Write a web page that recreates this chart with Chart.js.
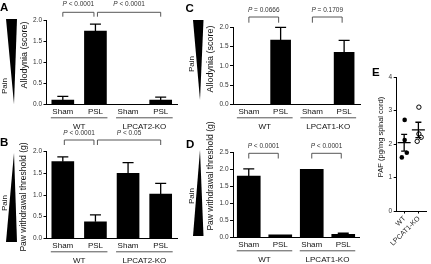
<!DOCTYPE html>
<html>
<head>
<meta charset="utf-8">
<script src="https://cdn.jsdelivr.net/npm/chart.js@4.4.0/dist/chart.umd.min.js"></script>
<style>
html, body { margin: 0; padding: 0; background: #fff; }
#wrap { position: relative; width: 431px; height: 264px; overflow: hidden; }
#wrap canvas { position: absolute; left: 0; top: 0; }
</style>
</head>
<body>
<div id="wrap">
  <canvas id="chartA" width="431" height="264"></canvas>
  <canvas id="chartB" width="431" height="264"></canvas>
  <canvas id="chartC" width="431" height="264"></canvas>
  <canvas id="chartD" width="431" height="264"></canvas>
  <canvas id="chartE" width="431" height="264"></canvas>
</div>
<script>
// valores
const treatments = ['Sham', 'PSL', 'Sham', 'PSL'];
const groupsAB = ['WT', 'LPCAT2-KO'];
const groupsCD = ['WT', 'LPCAT1-KO'];

const allodyniaA = [0.10, 1.74, 0, 0.10];
const allodyniaAErr = [0.09, 0.16, 0, 0.07];
const pawB = [1.77, 0.38, 1.50, 1.02];
const pawBErr = [0.11, 0.16, 0.25, 0.25];
const allodyniaC = [0, 1.67, 0, 1.35];
const allodyniaCErr = [0, 0.33, 0, 0.31];
const pawD = [1.81, 0.07, 2.01, 0.09];
const pawDErr = [0.21, 0, 0, 0.03];

const pA = [' < 0.0001', ' < 0.0001'];
const pB = [' < 0.0001', ' < 0.05'];
const pC = [' = 0.0666', ' = 0.1709'];
const pD = [' < 0.0001', ' < 0.0001'];

const pafLabels = ['WT', 'LPCAT1-KO'];
const pafWT = [2.72, 2.12, 1.74, 1.60];
const pafKO = [3.10, 2.30, 2.20, 2.08];
const pafWTJitter = [0, 0, 0.15, -0.20];
const pafKOJitter = [0, 0, 0.16, -0.12];
const pafMean = [2.04, 2.42];
const pafSem = [0.25, 0.23];

const W = 431, H = 264;
const Y_BOX = 20;   // largura da caixa do eixo y
const X_BOX = 16;   // altura da caixa do eixo x
const FONT = "'Liberation Sans', Arial, sans-serif";
Chart.defaults.font.family = FONT;

function pText(ctx, str, cx, cy) {
    ctx.font = 'italic 6.5px ' + FONT;
    const w1 = ctx.measureText('P').width;
    ctx.font = '6.5px ' + FONT;
    const w2 = ctx.measureText(str).width;
    const x0 = cx - (w1 + w2) / 2;
    ctx.fillStyle = '#333';
    ctx.textAlign = 'left';
    ctx.textBaseline = 'middle';
    ctx.font = 'italic 6.5px ' + FONT;
    ctx.fillText('P', x0, cy);
    ctx.font = '6.5px ' + FONT;
    ctx.fillText(str, x0 + w1, cy);
}

function rotText(ctx, text, cx, cy, font, color) {
    ctx.save();
    ctx.translate(cx, cy);
    ctx.rotate(-Math.PI / 2);
    ctx.font = font;
    ctx.fillStyle = color;
    ctx.textAlign = 'center';
    ctx.textBaseline = 'middle';
    ctx.fillText(text, 0, 0);
    ctx.restore();
}

// desenha barras de erro, colchetes, grupos e decoração do painel
const decoPlugin = {
    id: 'deco',
    afterDatasetsDraw(chart, args, o) {
        const ctx = chart.ctx;
        const xs = chart.scales.x, ys = chart.scales.y;
        const area = chart.chartArea;
        ctx.save();

        if (o.errors) {
            const meta = chart.getDatasetMeta(0);
            const vals = chart.data.datasets[0].data;
            ctx.strokeStyle = '#000';
            ctx.lineWidth = 1.3;
            o.errors.forEach((e, i) => {
                if (!e) return;
                const px = meta.data[i].x;
                const y0 = ys.getPixelForValue(vals[i]);
                const y1 = ys.getPixelForValue(vals[i] + e);
                ctx.beginPath();
                ctx.moveTo(px, y0);
                ctx.lineTo(px, y1);
                ctx.moveTo(px - 5.5, y1);
                ctx.lineTo(px + 5.5, y1);
                ctx.stroke();
            });
        }

        if (o.brackets) {
            ctx.strokeStyle = '#444';
            ctx.lineWidth = 0.9;
            o.brackets.forEach(b => {
                const x0 = xs.getPixelForValue(b.from) + (b.in0 || 0);
                const x1 = xs.getPixelForValue(b.to) - (b.in1 || 0);
                ctx.beginPath();
                ctx.moveTo(x0, o.bracketDrop);
                ctx.lineTo(x0, o.bracketY);
                ctx.lineTo(x1, o.bracketY);
                ctx.lineTo(x1, o.bracketDrop);
                ctx.stroke();
                pText(ctx, b.text, (x0 + x1) / 2, o.textY);
            });
        }

        if (o.groups) {
            o.groups.forEach(g => {
                const x0 = xs.getPixelForValue(g.from) - 12;
                const x1 = xs.getPixelForValue(g.to) + 12;
                ctx.strokeStyle = '#555';
                ctx.lineWidth = 1;
                ctx.beginPath();
                ctx.moveTo(x0, area.bottom + 13.5);
                ctx.lineTo(x1, area.bottom + 13.5);
                ctx.stroke();
                ctx.fillStyle = '#111';
                ctx.font = '8px ' + FONT;
                ctx.textAlign = 'center';
                ctx.textBaseline = 'middle';
                ctx.fillText(g.label, (x0 + x1) / 2, area.bottom + 22);
            });
        }

        if (o.meanSem) {
            ctx.strokeStyle = '#000';
            ctx.lineWidth = 1.3;
            o.meanSem.means.forEach((m, i) => {
                const px = xs.getPixelForValue(i + 1) - 0.5;
                const ym = ys.getPixelForValue(m);
                const yt = ys.getPixelForValue(m + o.meanSem.sems[i]);
                const yb = ys.getPixelForValue(m - o.meanSem.sems[i]);
                ctx.beginPath();
                ctx.moveTo(px - 6.5, ym);
                ctx.lineTo(px + 6.5, ym);
                ctx.moveTo(px, yt);
                ctx.lineTo(px, yb);
                ctx.moveTo(px - 3, yt);
                ctx.lineTo(px + 3, yt);
                ctx.moveTo(px - 3, yb);
                ctx.lineTo(px + 3, yb);
                ctx.stroke();
            });
        }

        if (o.letter) {
            ctx.fillStyle = '#000';
            ctx.font = 'bold 11.5px ' + FONT;
            ctx.textAlign = 'left';
            ctx.textBaseline = 'alphabetic';
            ctx.fillText(o.letter.text, o.letter.x, o.letter.y);
        }

        if (o.triangle) {
            const t = o.triangle;
            ctx.fillStyle = '#000';
            ctx.beginPath();
            ctx.moveTo(t.x0, t.wideY);
            ctx.lineTo(t.x1, t.wideY);
            ctx.lineTo(t.tipX, t.tipY);
            ctx.closePath();
            ctx.fill();
            rotText(ctx, 'Pain', t.painX, t.painY, '8px ' + FONT, '#111');
        }

        if (o.yTitle) {
            rotText(ctx, o.yTitle.text, o.yTitle.x, o.yTitle.y, o.yTitle.size + 'px ' + FONT, '#111');
        }

        ctx.restore();
    }
};

function barPanel(id, values, area, yMax, barW, deco) {
    return new Chart(document.getElementById(id), {
        type: 'bar',
        data: {
            labels: treatments,
            datasets: [{
                data: values,
                backgroundColor: '#000',
                barThickness: barW
            }]
        },
        plugins: [decoPlugin],
        options: {
            responsive: false,
            animation: false,
            events: [],
            layout: {
                padding: {
                    left: area[0] - Y_BOX,
                    top: area[1],
                    right: W - area[2],
                    bottom: H - area[3] - X_BOX
                }
            },
            plugins: {
                legend: { display: false },
                tooltip: { enabled: false },
                deco: deco
            },
            scales: {
                x: {
                    grid: { display: false, drawTicks: false },
                    border: { display: true, color: '#000', width: 1 },
                    ticks: { font: { size: 8 }, color: '#111', padding: 3 },
                    afterFit: s => { s.height = X_BOX; }
                },
                y: {
                    min: 0,
                    max: yMax,
                    grid: { drawOnChartArea: false, tickLength: 3, color: '#000' },
                    border: { display: true, color: '#000', width: 1 },
                    ticks: {
                        stepSize: 0.5,
                        font: { size: 6.5 },
                        color: '#333',
                        padding: 1.5,
                        callback: v => v.toFixed(1)
                    },
                    afterFit: s => { s.width = Y_BOX; }
                }
            }
        }
    });
}

barPanel('chartA', allodyniaA, [46.5, 20, 177, 104.3], 2, 22, {
    errors: allodyniaAErr,
    bracketY: 12.3, bracketDrop: 16.7, textY: 4.5,
    brackets: [
        { from: 0, to: 1, text: pA[0], in1: 1.5 },
        { from: 1, to: 3, text: pA[1], in0: 2 }
    ],
    groups: [
        { label: groupsAB[0], from: 0, to: 1 },
        { label: groupsAB[1], from: 2, to: 3 }
    ],
    letter: { text: 'A', x: 0, y: 10.5 },
    triangle: { x0: 6, x1: 17, wideY: 19, tipX: 14, tipY: 104, painX: 4.5, painY: 86 },
    yTitle: { text: 'Allodynia (score)', x: 24.5, y: 55, size: 9 }
});

barPanel('chartB', pawB, [46.5, 151.7, 177, 238.3], 2, 22, {
    errors: pawBErr,
    bracketY: 140, bracketDrop: 145, textY: 133.5,
    brackets: [
        { from: 0, to: 1, text: pB[0], in0: 1.5, in1: 1.5 },
        { from: 1, to: 3, text: pB[1], in0: 2 }
    ],
    groups: [
        { label: groupsAB[0], from: 0, to: 1 },
        { label: groupsAB[1], from: 2, to: 3 }
    ],
    letter: { text: 'B', x: 0, y: 146 },
    triangle: { x0: 6, x1: 17, wideY: 242, tipX: 14, tipY: 153, painX: 4.5, painY: 203 },
    yTitle: { text: 'Paw withdrawal threshold (g)', x: 24, y: 197, size: 8.5 }
});

barPanel('chartC', allodyniaC, [233, 27.3, 360, 104.3], 2, 20, {
    errors: allodyniaCErr,
    bracketY: 17, bracketDrop: 22.7, textY: 10,
    brackets: [
        { from: 0, to: 1, text: pC[0], in1: 2 },
        { from: 2, to: 3, text: pC[1], in1: 2 }
    ],
    groups: [
        { label: groupsCD[0], from: 0, to: 1 },
        { label: groupsCD[1], from: 2, to: 3 }
    ],
    letter: { text: 'C', x: 185.5, y: 11.7 },
    triangle: { x0: 193, x1: 203.5, wideY: 20, tipX: 200, tipY: 100, painX: 192, painY: 64 },
    yTitle: { text: 'Allodynia (score)', x: 210.5, y: 59, size: 9 }
});

barPanel('chartD', pawD, [233, 152.7, 359, 237.3], 2.5, 23, {
    errors: pawDErr,
    bracketY: 153.3, bracketDrop: 158.5, textY: 146.5,
    brackets: [
        { from: 0, to: 1, text: pD[0], in1: 2 },
        { from: 2, to: 3, text: pD[1], in1: 2 }
    ],
    groups: [
        { label: groupsCD[0], from: 0, to: 1 },
        { label: groupsCD[1], from: 2, to: 3 }
    ],
    letter: { text: 'D', x: 186, y: 147.5 },
    triangle: { x0: 193, x1: 203.5, wideY: 236, tipX: 200, tipY: 150, painX: 192, painY: 196 },
    yTitle: { text: 'Paw withdrawal threshold (g)', x: 211, y: 176, size: 8.5 }
});

// painel E: pontos individuais com média ± EPM
new Chart(document.getElementById('chartE'), {
    type: 'scatter',
    data: {
        datasets: [
            {
                data: pafWT.map((v, i) => ({ x: 1 + pafWTJitter[i], y: v })),
                pointRadius: 2.3,
                backgroundColor: '#000',
                borderColor: '#000',
                borderWidth: 0
            },
            {
                data: pafKO.map((v, i) => ({ x: 2 + pafKOJitter[i], y: v })),
                pointRadius: 2.2,
                backgroundColor: '#fff',
                borderColor: '#000',
                borderWidth: 1
            }
        ]
    },
    plugins: [decoPlugin],
    options: {
        responsive: false,
        animation: false,
        events: [],
        layout: {
            padding: { left: 396.7 - 12, top: 77, right: 0, bottom: H - 211 - 44 }
        },
        plugins: {
            legend: { display: false },
            tooltip: { enabled: false },
            deco: {
                meanSem: { means: pafMean, sems: pafSem },
                letter: { text: 'E', x: 372, y: 75.5 },
                yTitle: { text: 'PAF (pg/mg spinal cord)', x: 381, y: 137, size: 7.5 }
            }
        },
        scales: {
            x: {
                type: 'linear',
                min: 0.44,
                max: 2.5,
                afterBuildTicks: s => { s.ticks = [{ value: 1 }, { value: 2 }]; },
                grid: { drawOnChartArea: false, tickLength: 2.5, color: '#000' },
                border: { display: true, color: '#000', width: 1 },
                ticks: {
                    autoSkip: false,
                    minRotation: 45,
                    maxRotation: 45,
                    font: { size: 7 },
                    color: '#222',
                    padding: 1,
                    callback: v => pafLabels[v - 1]
                },
                afterFit: s => { s.height = 44; }
            },
            y: {
                min: 0,
                max: 4,
                grid: { drawOnChartArea: false, tickLength: 3, color: '#000' },
                border: { display: true, color: '#000', width: 1 },
                ticks: { stepSize: 1, font: { size: 6.5 }, color: '#333', padding: 1.5 },
                afterFit: s => { s.width = 12; }
            }
        }
    }
});
</script>
</body>
</html>
